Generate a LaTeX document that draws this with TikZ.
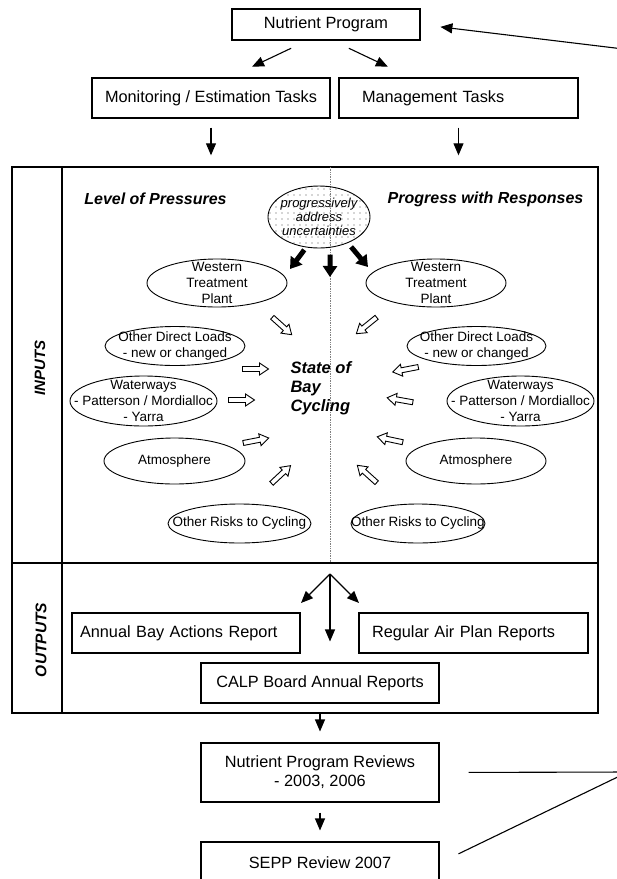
\documentclass[tikz,border=0pt]{standalone}
\usepackage{fontspec}
\setmainfont{Liberation Sans}
\usetikzlibrary{arrows.meta,shapes.geometric,patterns.meta}

\begin{document}
\begin{tikzpicture}[x=1pt,y=-1pt,>={Triangle[length=12pt,width=10pt]},line width=1.1pt,
  box/.style={draw,rectangle,inner sep=0pt,minimum width=238pt,minimum height=40pt,font=\fontsize{16.3}{19}\selectfont},
  leftbox/.style={box,align=left,text width=#1},
  blob/.style={draw,ellipse,inner sep=0pt,line width=0.9pt},
  blobtext/.style={align=center,inner sep=0pt,font=\fontsize{13.5}{15.8}\selectfont},
  head/.style={inner sep=0pt,font=\fontsize{16}{19}\selectfont\bfseries\itshape},
  bigarrow/.style={line width=5pt,-{Triangle[length=11pt,width=14pt]}},
  hollow/.pic={\draw[fill=white,line width=0.9pt] (-13,-2.5) -- (4,-2.5) -- (4,-6) -- (13,0) -- (4,6) -- (4,2.5) -- (-13,2.5) -- cycle;}]
  \useasboundingbox (0,0) rectangle (617,879);

  \node[box,minimum width=188pt,minimum height=31pt] (np) at (326,24.5) {Nutrient Program};
  \node[box] (mon) at (211,98) {Monitoring / Estimation Tasks};
  \node[leftbox=193pt,minimum width=239pt] (mgmt) at (458.5,98) {Management Tasks};

  \node[draw,line width=1.4pt,inner sep=0pt,minimum width=586pt,minimum height=546pt] (frame) at (305,440) {};
  \draw[line width=1.4pt] (62,167) -- (62,713);
  \draw[line width=1.4pt] (12,563) -- (598,563);
  \draw[densely dotted,gray,line width=0.7pt] (330,167) -- (330,563);

  \node[head,font=\fontsize{15}{18}\selectfont\bfseries\itshape,rotate=90] (inputs) at (40,368) {INPUTS};
  \node[head,font=\fontsize{15.5}{18}\selectfont\bfseries\itshape,rotate=90] (outputs) at (41,640) {OUTPUTS};
  \node[head] (pressures) at (155.5,199) {Level of Pressures};
  \node[head] (responses) at (485.5,199) {Progress with Responses};
  \node[head,font=\fontsize{16.5}{19}\selectfont\bfseries\itshape,align=left,anchor=west] (state) at (290,388) {State of\\Bay\\Cycling};

  \node[blob,minimum width=102pt,minimum height=62pt,pattern={Dots[distance=6pt,radius=0.55pt]},pattern color=black!70,
    label={[blobtext,font=\fontsize{13}{14}\selectfont\itshape]center:progressively\\address\\uncertainties}] (prog) at (319,217) {};

  \node[blob,minimum width=140pt,minimum height=48pt,label={[blobtext]center:Western\\Treatment\\Plant}] (wtpL) at (217,283) {};
  \node[blob,minimum width=140pt,minimum height=39pt,label={[blobtext]center:Other Direct Loads\\- new or changed}] (odlL) at (175,346) {};
  \node[blob,minimum width=147pt,minimum height=50pt,label={[blobtext]center:Waterways\\- Patterson / Mordialloc\\- Yarra}] (wwL) at (143.5,401) {};
  \node[blob,minimum width=141pt,minimum height=46pt,label={[blobtext]center:Atmosphere}] (atmL) at (174.5,461) {};
  \node[blob,minimum width=143pt,minimum height=39pt,label={[blobtext]center:Other Risks to Cycling}] (orL) at (239.5,523.5) {};

  \node[blob,minimum width=140pt,minimum height=48pt,label={[blobtext]center:Western\\Treatment\\Plant}] (wtpR) at (436,283) {};
  \node[blob,minimum width=139pt,minimum height=39pt,label={[blobtext]center:Other Direct Loads\\- new or changed}] (odlR) at (476.5,346) {};
  \node[blob,minimum width=147pt,minimum height=50pt,label={[blobtext]center:Waterways\\- Patterson / Mordialloc\\- Yarra}] (wwR) at (520.5,401) {};
  \node[blob,minimum width=140pt,minimum height=46pt,label={[blobtext]center:Atmosphere}] (atmR) at (476,461) {};
  \node[blob,minimum width=134pt,minimum height=39pt,label={[blobtext]center:Other Risks to Cycling}] (orR) at (418,523.5) {};

  \pic[rotate=-42] (inL1) at (282,326) {hollow};
  \pic (inL2) at (255.5,369) {hollow};
  \pic (inL3) at (241.5,400) {hollow};
  \pic[rotate=11] (inL4) at (256,440.5) {hollow};
  \pic[rotate=43] (inL5) at (281,474.5) {hollow};
  \pic[rotate=219] (inR1) at (366.5,325.5) {hollow};
  \pic[rotate=191] (inR2) at (405.5,369.5) {hollow};
  \pic[rotate=170] (inR3) at (400,400) {hollow};
  \pic[rotate=168] (inR4) at (390,439.5) {hollow};
  \pic[rotate=138] (inR5) at (367,474) {hollow};

  \coordinate (tipL) at (290,269);
  \coordinate (tipM) at (330,277);
  \coordinate (tipR) at (368,267);
  \draw[bigarrow,shorten <=3pt] (prog.247) -- (tipL);
  \draw[bigarrow,shorten <=7pt] (prog.-70) -- (tipM);
  \draw[bigarrow,shorten <=5pt] (prog.-42) -- (tipR);

  \node[leftbox=212pt,minimum width=228pt] (abar) at (186,633) {Annual Bay Actions Report};
  \node[leftbox=203pt,minimum width=229pt] (rapr) at (473.5,633) {Regular Air Plan Reports};
  \node[box] (calp) at (320,683) {CALP Board Annual Reports};
  \node[box,align=center,minimum height=59pt] (npr) at (320,772.5) {Nutrient Program Reviews\\- 2003, 2006};
  \node[box,minimum height=42pt] (sepp) at (320,863) {SEPP Review 2007};

  \coordinate (fan) at (330,574);
  \coordinate (fanL) at (301,603);
  \coordinate (fanR) at (359,603);
  \coordinate (fbJoin) at (628,772);
  \coordinate (fbTop) at (640,51);

  \path[->]
    ([xshift=-18.6pt]np.south) edge[shorten <=18pt,shorten >=25pt] ([xshift=18.4pt]mon.north)
    ([xshift=6.6pt]np.south) edge[shorten <=18pt,shorten >=25pt] ([xshift=-48pt]mgmt.north)
    (mon.south) edge[shorten <=9pt,shorten >=11pt] (mon.south |- frame.north)
    (mgmt.south) edge[shorten <=9pt,shorten >=11pt] (mgmt.south |- frame.north)
    (fan) edge (fanL)
    (fan) edge (fanR)
    (fan) edge[shorten >=21pt] (fan |- calp.north)
    (npr.north |- frame.south) edge[shorten >=11pt] (npr.north)
    (npr.south) edge[shorten <=10pt,shorten >=11pt] (sepp.north)
    (fbTop) edge[shorten >=20pt] (np.east)
  ;
  \draw[shorten <=29pt] (npr.east) -- (fbJoin);
  \draw[shorten <=21pt] (sepp.east) -- (fbJoin);
\end{tikzpicture}
\end{document}
